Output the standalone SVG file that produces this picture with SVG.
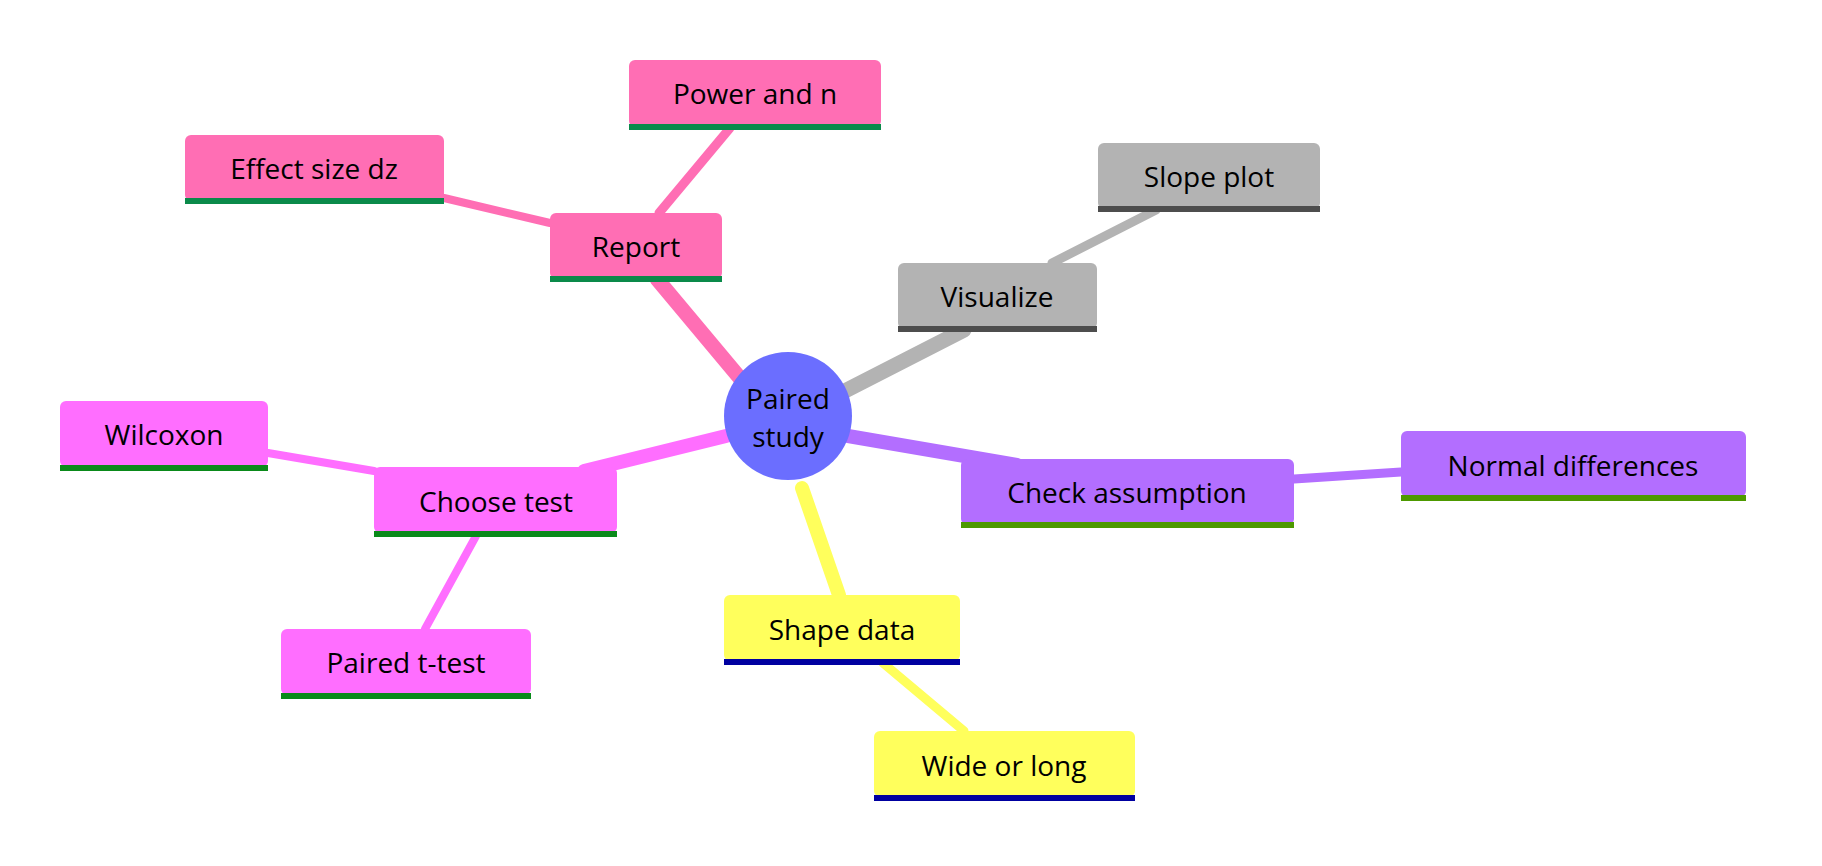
<svg xmlns="http://www.w3.org/2000/svg" width="1822" height="866" viewBox="0 0 1822 866">
<style>
text{font-family:"Open Sans","Noto Sans","Liberation Sans",sans-serif;font-size:28px;text-anchor:middle;dominant-baseline:central;fill:#000}
.e{fill:none;stroke-linecap:round}
</style>
<rect width="1822" height="866" fill="#fff"/>
<g id="connectors" class="e">
<line x1="744" y1="383" x2="657" y2="279" stroke="#FF6EB4" stroke-width="15"/>
<line x1="659" y1="213" x2="730" y2="128" stroke="#FF6EB4" stroke-width="9"/>
<line x1="550" y1="223" x2="444" y2="198" stroke="#FF6EB4" stroke-width="8"/>
<line x1="837" y1="395" x2="964" y2="330" stroke="#B3B3B3" stroke-width="15"/>
<line x1="1052" y1="263" x2="1156" y2="210" stroke="#B3B3B3" stroke-width="9"/>
<line x1="848" y1="436" x2="1017" y2="465" stroke="#B36EFF" stroke-width="14"/>
<line x1="1294" y1="479" x2="1401" y2="472" stroke="#B36EFF" stroke-width="9"/>
<line x1="802" y1="488" x2="839" y2="595" stroke="#FFFF5C" stroke-width="14"/>
<line x1="883" y1="663" x2="964" y2="731" stroke="#FFFF5C" stroke-width="9"/>
<line x1="726" y1="436" x2="584" y2="471" stroke="#FF6EFF" stroke-width="14"/>
<line x1="374" y1="471" x2="268" y2="453" stroke="#FF6EFF" stroke-width="8"/>
<line x1="476" y1="536" x2="425" y2="629" stroke="#FF6EFF" stroke-width="8"/>
</g>
<g id="center"><circle cx="788" cy="416" r="64" fill="#6B6EFF"/><text x="788" y="398" font-size="27" fill="#333">Paired</text><text x="788" y="436" font-size="27" fill="#333">study</text></g>
<g id="report"><rect x="550" y="213" width="172" height="66" rx="6" fill="#FF6EB4"/><rect x="550" y="276" width="172" height="6" fill="#0A8A4A"/><text x="636" y="246">Report</text></g>
<g id="power"><rect x="629" y="60" width="252" height="67" rx="6" fill="#FF6EB4"/><rect x="629" y="124" width="252" height="6" fill="#0A8A4A"/><text x="755" y="93">Power and n</text></g>
<g id="effect"><rect x="185" y="135" width="259" height="66" rx="6" fill="#FF6EB4"/><rect x="185" y="198" width="259" height="6" fill="#0A8A4A"/><text x="314" y="168">Effect size dz</text></g>
<g id="visualize"><rect x="898" y="263" width="199" height="66" rx="6" fill="#B3B3B3"/><rect x="898" y="326" width="199" height="6" fill="#4D4D4D"/><text x="997" y="296">Visualize</text></g>
<g id="slope"><rect x="1098" y="143" width="222" height="66" rx="6" fill="#B3B3B3"/><rect x="1098" y="206" width="222" height="6" fill="#4D4D4D"/><text x="1209" y="176">Slope plot</text></g>
<g id="check"><rect x="961" y="459" width="333" height="66" rx="6" fill="#B36EFF"/><rect x="961" y="522" width="333" height="6" fill="#4D9900"/><text x="1127" y="492" fill="#333">Check assumption</text></g>
<g id="normal"><rect x="1401" y="431" width="345" height="66" rx="6" fill="#B36EFF"/><rect x="1401" y="495" width="345" height="6" fill="#4D9900"/><text x="1573" y="465" fill="#333">Normal differences</text></g>
<g id="shape"><rect x="724" y="595" width="236" height="66" rx="6" fill="#FFFF5C"/><rect x="724" y="659" width="236" height="6" fill="#0000A0"/><text x="842" y="629">Shape data</text></g>
<g id="wide"><rect x="874" y="731" width="261" height="66" rx="6" fill="#FFFF5C"/><rect x="874" y="795" width="261" height="6" fill="#0000A0"/><text x="1004" y="765">Wide or long</text></g>
<g id="choose"><rect x="374" y="467" width="243" height="66" rx="6" fill="#FF6EFF"/><rect x="374" y="531" width="243" height="6" fill="#0A8A1A"/><text x="496" y="501">Choose test</text></g>
<g id="wilcoxon"><rect x="60" y="401" width="208" height="66" rx="6" fill="#FF6EFF"/><rect x="60" y="465" width="208" height="6" fill="#0A8A1A"/><text x="164" y="434">Wilcoxon</text></g>
<g id="pairedt"><rect x="281" y="629" width="250" height="66" rx="6" fill="#FF6EFF"/><rect x="281" y="693" width="250" height="6" fill="#0A8A1A"/><text x="406" y="662">Paired t-test</text></g>
</svg>
